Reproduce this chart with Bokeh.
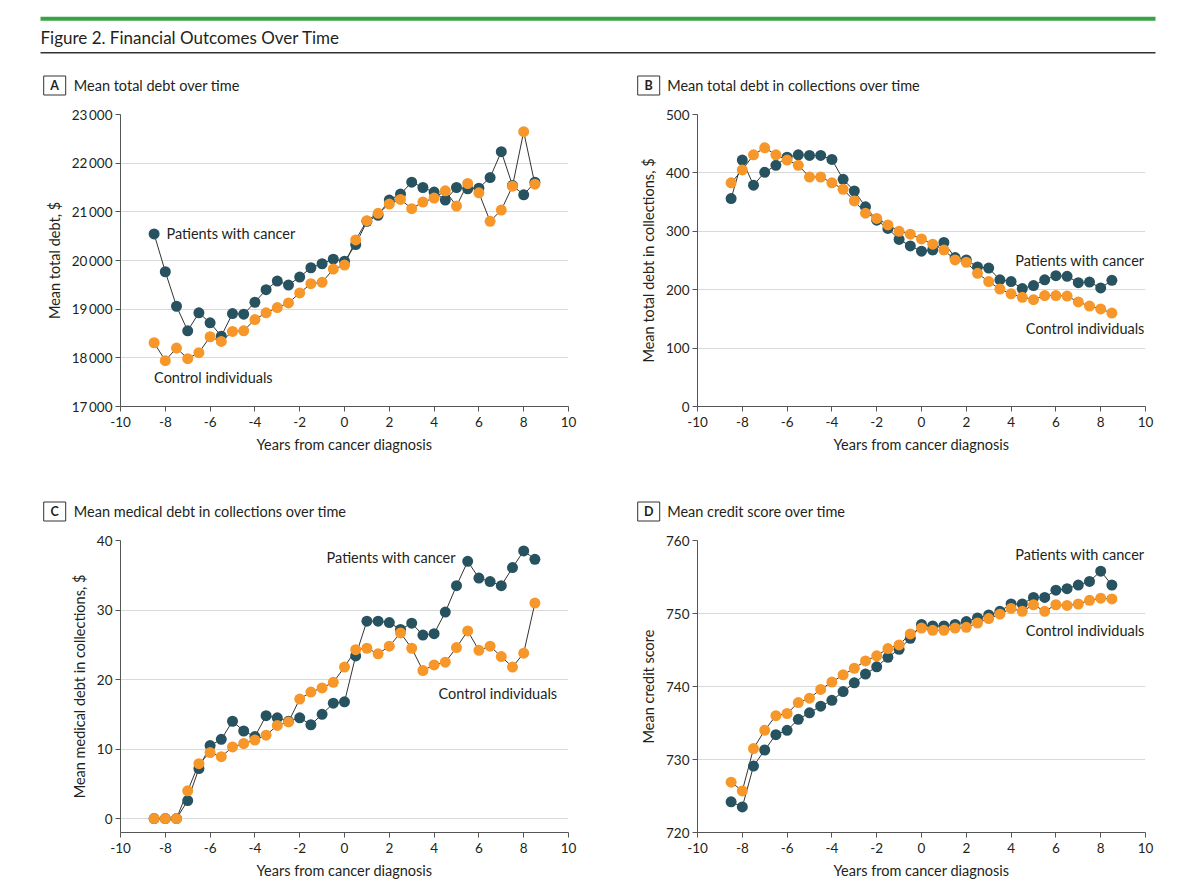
from bokeh.plotting import figure
from bokeh.models import Range1d, FixedTicker, Label
from bokeh.core.properties import value
from bokeh.layouts import column, row
from bokeh.embed import file_html
from bokeh.resources import INLINE

# ---------------- data ----------------
YEARS = [-8.5, -8.0, -7.5, -7.0, -6.5, -6.0, -5.5, -5.0, -4.5, -4.0, -3.5, -3.0,
         -2.5, -2.0, -1.5, -1.0, -0.5, 0.0, 0.5, 1.0, 1.5, 2.0, 2.5, 3.0, 3.5,
         4.0, 4.5, 5.0, 5.5, 6.0, 6.5, 7.0, 7.5, 8.0, 8.5]

A_CANCER = [20546, 19769, 19060, 18556, 18924, 18719, 18446, 18910, 18896, 19142,
            19401, 19578, 19496, 19660, 19851, 19933, 20028, 19987, 20328, 20805,
            20928, 21241, 21364, 21609, 21500, 21405, 21241, 21500, 21473, 21487,
            21705, 22237, 21541, 21350, 21609]
A_CONTROL = [18310, 17942, 18201, 17983, 18106, 18433, 18337, 18542, 18556, 18787,
             18924, 19033, 19128, 19333, 19523, 19551, 19823, 19905, 20423, 20818,
             20969, 21159, 21255, 21064, 21200, 21282, 21432, 21119, 21582, 21391,
             20805, 21037, 21528, 22646, 21568]

B_CANCER = [356, 422, 379, 401, 413, 427, 431, 430, 430, 423, 389, 369, 342, 319,
            305, 286, 275, 266, 268, 281, 255, 251, 239, 237, 217, 214, 202, 207,
            217, 224, 223, 212, 213, 203, 216]
B_CONTROL = [383, 405, 431, 443, 431, 422, 413, 393, 393, 383, 372, 352, 331, 322,
             311, 300, 295, 287, 278, 268, 251, 247, 228, 214, 201, 193, 187, 183,
             190, 190, 189, 179, 172, 167, 160]

C_CANCER = [0, 0, 0, 2.6, 7.2, 10.5, 11.4, 14.0, 12.6, 11.8, 14.8, 14.5, 14.0, 14.5,
            13.5, 15.0, 16.6, 16.8, 23.4, 28.4, 28.4, 28.2, 27.2, 28.1, 26.4, 26.6,
            29.7, 33.5, 37.0, 34.6, 34.1, 33.5, 36.1, 38.5, 37.3]
C_CONTROL = [0, 0, 0, 4.0, 7.9, 9.5, 8.9, 10.3, 10.8, 11.3, 12.0, 13.4, 13.9, 17.2,
             18.2, 18.8, 19.6, 21.8, 24.3, 24.5, 23.7, 24.8, 26.7, 24.5, 21.3, 22.1,
             22.5, 24.6, 27.0, 24.2, 24.8, 23.3, 21.8, 23.8, 31.0]

D_CANCER = [724.2, 723.5, 729.1, 731.3, 733.4, 734.0, 735.5, 736.4, 737.3, 738.1,
            739.3, 740.5, 741.7, 742.7, 744.0, 745.1, 746.6, 748.5, 748.3, 748.3,
            748.5, 748.9, 749.4, 749.8, 750.3, 751.3, 751.3, 752.2, 752.2, 753.2,
            753.4, 753.9, 754.4, 755.8, 753.9]
D_CONTROL = [726.9, 725.7, 731.5, 734.0, 736.0, 736.3, 737.8, 738.4, 739.6, 740.6,
             741.6, 742.5, 743.5, 744.2, 745.2, 745.7, 747.2, 748.0, 747.7, 747.7,
             748.0, 748.1, 748.7, 749.3, 749.9, 750.7, 750.3, 751.2, 750.3, 751.2,
             751.1, 751.3, 751.8, 752.1, 752.0]

X_TICKS = [-10, -8, -6, -4, -2, 0, 2, 4, 6, 8, 10]
X_TICK_LABELS = ["-10", "-8", "-6", "-4", "-2", "0", "2", "4", "6", "8", "10"]

A_Y_TICKS = [17000, 18000, 19000, 20000, 21000, 22000, 23000]
A_Y_TICK_LABELS = ["17\u2009000", "18\u2009000", "19\u2009000", "20\u2009000",
                   "21\u2009000", "22\u2009000", "23\u2009000"]
B_Y_TICKS = [0, 100, 200, 300, 400, 500]
B_Y_TICK_LABELS = ["0", "100", "200", "300", "400", "500"]
C_Y_TICKS = [0, 10, 20, 30, 40]
C_Y_TICK_LABELS = ["0", "10", "20", "30", "40"]
D_Y_TICKS = [720, 730, 740, 750, 760]
D_Y_TICK_LABELS = ["720", "730", "740", "750", "760"]

FIG_TITLE = "Figure 2. Financial Outcomes Over Time"
PANEL_LETTERS = ["A", "B", "C", "D"]
PANEL_TITLES = ["Mean total debt over time",
                "Mean total debt in collections over time",
                "Mean medical debt in collections over time",
                "Mean credit score over time"]
Y_LABELS = ["Mean total debt, $", "Mean total debt in collections, $",
            "Mean medical debt in collections, $", "Mean credit score"]
X_LABEL = "Years from cancer diagnosis"
SERIES = ["Patients with cancer", "Control individuals"]

# ---------------- style ----------------
FONT = "Lato"
TEXT = "#231f20"
DARK = "#27525f"
ORANGE = "#f7972a"
LINE = "#333333"
AXIS = "#555555"
GRID = "#d9d9d9"
FW, FH = 448, 292


def panel(ylabel, cancer, control, yrange, yticks, ylabels,
          left, right, top, bottom, lab_cancer, lab_control):
    p = figure(width=left + FW + right, height=top + FH + bottom,
               x_range=Range1d(-10, 10), y_range=Range1d(*yrange),
               output_backend="svg", toolbar_location=None,
               min_border_left=left, min_border_right=right,
               min_border_top=top, min_border_bottom=bottom)
    p.outline_line_color = None
    p.background_fill_color = "white"
    p.border_fill_color = "white"

    p.xaxis.ticker = FixedTicker(ticks=X_TICKS)
    p.xaxis.major_label_overrides = dict(zip(X_TICKS, X_TICK_LABELS))
    p.yaxis.ticker = FixedTicker(ticks=yticks)
    p.yaxis.major_label_overrides = dict(zip(yticks, ylabels))
    p.xaxis.axis_label = X_LABEL
    p.yaxis.axis_label = ylabel

    for ax in (p.xaxis, p.yaxis):
        ax.axis_line_color = AXIS
        ax.axis_line_width = 1
        ax.major_tick_line_color = AXIS
        ax.major_tick_in = 0
        ax.major_tick_out = 5
        ax.minor_tick_line_color = None
        ax.major_label_text_font = FONT
        ax.major_label_text_font_size = "13.5px"
        ax.major_label_text_color = TEXT
        ax.axis_label_text_font = FONT
        ax.axis_label_text_font_size = "14.5px"
        ax.axis_label_text_font_style = "normal"
        ax.axis_label_text_color = TEXT
    p.xaxis.major_label_standoff = 5
    p.yaxis.major_label_standoff = 3
    p.xaxis.axis_label_standoff = 6
    p.yaxis.axis_label_standoff = 6

    p.xgrid.grid_line_color = None
    p.ygrid.grid_line_color = GRID
    p.ygrid.grid_line_width = 1

    p.line(YEARS, cancer, line_color=LINE, line_width=1)
    p.line(YEARS, control, line_color=LINE, line_width=1)
    p.scatter(YEARS, cancer, size=11, fill_color=DARK, line_color=None)
    p.scatter(YEARS, control, size=11, fill_color=ORANGE, line_color=None)

    for (x, y, align), txt in zip((lab_cancer, lab_control), SERIES):
        p.add_layout(Label(x=x, y=y, text=txt, text_align=align,
                           text_baseline="middle", text_font=FONT,
                           text_font_size="14.5px", text_color=TEXT))
    return p


def strip(height, top):
    """A page-coordinate strip (1 unit = 1 px) for headings above panels."""
    s = figure(width=1192, height=height, x_range=Range1d(0, 1192),
               y_range=Range1d(top + height, top), output_backend="svg",
               toolbar_location=None, x_axis_type=None, y_axis_type=None,
               min_border=0)
    s.outline_line_color = None
    s.xgrid.grid_line_color = None
    s.ygrid.grid_line_color = None
    return s


def heading(s, letters, titles, box_x, title_x, y):
    s.rect(x=box_x, y=[y] * len(box_x), width=22, height=19,
           fill_color="white", line_color="#333333", line_width=1)
    s.text(x=box_x, y=[y] * len(box_x), text=letters, text_align="center",
           text_baseline="middle", text_font=value(FONT), text_font_style="bold",
           text_font_size="12.5px", text_color=TEXT)
    s.text(x=title_x, y=[y] * len(title_x), text=titles, text_align="left",
           text_baseline="middle", text_font=value(FONT), text_font_size="14.5px",
           text_color=TEXT)


pA = panel(Y_LABELS[0], A_CANCER, A_CONTROL, (17000, 23000), A_Y_TICKS, A_Y_TICK_LABELS,
           120, 32, 10, 68, (-7.95, 20546, "left"), (-8.5, 17594, "left"))
pB = panel(Y_LABELS[1], B_CANCER, B_CONTROL, (0, 500), B_Y_TICKS, B_Y_TICK_LABELS,
           97, 47, 10, 68, (9.95, 250, "right"), (9.95, 134, "right"))
pC = panel(Y_LABELS[2], C_CANCER, C_CONTROL, (-2, 40), C_Y_TICKS, C_Y_TICK_LABELS,
           120, 32, 10, 54, (-0.8, 37.6, "left"), (4.2, 18.0, "left"))
pD = panel(Y_LABELS[3], D_CANCER, D_CONTROL, (720, 760), D_Y_TICKS, D_Y_TICK_LABELS,
           97, 47, 10, 54, (9.95, 758.1, "right"), (9.95, 747.7, "right"))

# ---------------- header (page y 0..104) ----------------
hdr = strip(104, 0)
hdr.segment(x0=[40], y0=[18.3], x1=[1155], y1=[18.3], line_color="#3aa346", line_width=4)
hdr.segment(x0=[40], y0=[52.3], x1=[1155], y1=[52.3], line_color="#333333", line_width=1.5)
hdr.text(x=[40], y=[36.5], text=[FIG_TITLE], text_align="left", text_baseline="middle",
         text_font=value(FONT), text_font_size="17px", text_color=TEXT)
heading(hdr, PANEL_LETTERS[:2], PANEL_TITLES[:2], [54.2, 648.2], [73.3, 666.7], 85.0)

# ---------------- second heading strip (page y 474..530) ----------------
mid = strip(56, 474)
heading(mid, PANEL_LETTERS[2:], PANEL_TITLES[2:], [54.2, 648.2], [73.3, 666.7], 511.0)

layout = column(hdr, row(pA, pB), mid, row(pC, pD))

with open("out.html", "w") as f:
    f.write(file_html(layout, INLINE))
